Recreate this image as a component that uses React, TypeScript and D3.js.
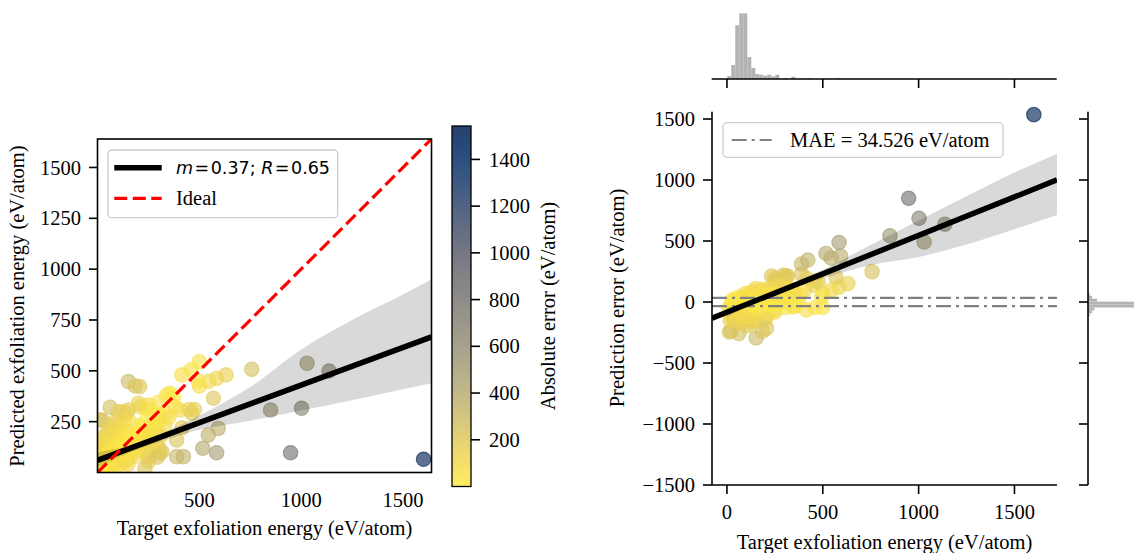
import React from "react";
import * as d3 from "d3";

// Target vs. predicted exfoliation energies (eV/atom)
const target = [
  500, 414, 152, 185, 757, 585, 631, 500, 340, 373,
  569, 1029, 1137, 850, 1002, 948, 1601, 62, 405, 463,
  544, 593, 517, 585, 389, 389, 422, 250, 307, 209,
  242, 144, 103, 13, 291, 242, 169, 340, 356, 201,
  250, 381, 258, 316, 127, 152, 22, 87,
  233, 294, 302, 250, 415, 450, 476, 276, 302, 546, 494, 207, 16,
  460, 300,
  25, 30, 35, 38, 42, 45, 48, 50, 52, 55,
  57, 58, 60, 62, 63, 65, 66, 68, 70, 71,
  72, 74, 75, 76, 78, 80, 81, 82, 84, 85,
  86, 88, 90, 92, 94, 96, 98, 100, 103, 106,
  110, 115, 120, 128, 135,
  45, 50, 55, 60, 64, 67, 69, 72, 73, 77,
  79, 83, 87, 89, 91, 93, 97, 102, 108, 112,
  118, 125, 58, 66, 76,
  10, 15, 20, 28, 35, 40, 45, 50, 55, 60,
  65, 70, 75, 80, 85, 90, 95, 100, 105, 110,
  115, 120, 125, 130, 140, 145, 150, 160, 170, 175,
  185, 190, 200, 210, 220, 230, 240, 255, 265, 280,
  295, 310, 330, 350, 40, 55, 30, 95, 120, 150,
  130, 160, 180, 200, 230, 260, 290, 170, 210, 250, 140, 190,
];
const predicted = [
  545, 480, 447, 425, 508, 463, 480, 425, 381, 373,
  365, 537, 499, 307, 316, 97, 65, 321, 307, 291,
  184, 217, 119, 97, 160, 78, 78, 78, 94, 324,
  316, 291, 299, 258, 209, 160, 94, 291, 390, 340,
  332, 324, 86, 102, 299, 307, 258, 250,
  20, 75, 120, 55, 220, 310, 310, 287, 286, 448, 451, 423, 164,
  505, 345,
  30, 42, 55, 66, 39, 60, 56, 75, 52, 73,
  62, 70, 80, 90, 60, 80, 74, 93, 70, 89,
  77, 86, 95, 104, 75, 95, 89, 107, 84, 103,
  91, 100, 110, 120, 91, 111, 106, 125, 103, 124,
  115, 127, 140, 156, 132,
  50, 62, 58, 72, 70, 85, 77, 90, 80, 98,
  85, 95, 108, 96, 104, 97, 118, 110, 121, 135,
  122, 140, 48, 60, 66,
  60, 120, 95, 150, 180, 130, 85, 200, 160, 110,
  230, 150, 190, 40, 120, 210, 60, 170, 140, 230,
  70, 190, 100, 250, 130, 60, 200, 110, 240, 150,
  80, 180, 130, 230, 110, 170, 260, 140, 200, 150,
  250, 180, 230, 270, 30, 20, 10, 25, 45, 40,
  150, 170, 150, 190, 200, 230, 240, 120, 150, 180, 90, 110,
];

// Linear fit of predicted on target, with its confidence band
const fitSlope = 0.37;
const fitIntercept = 60;
const bandTarget = [0, 150, 300, 500, 750, 1000, 1250, 1500, 1640];
const bandLower = [25, 95, 150, 210, 255, 305, 355, 410, 439];
const bandUpper = [100, 130, 185, 280, 420, 605, 750, 875, 950];

// Linear fit of prediction error on target, with its confidence band
const errSlope = 0.63;
const errIntercept = -84;
const errBandTarget = [0, 150, 300, 500, 750, 1000, 1250, 1500, 1722];
const errBandLower = [-124, -4, 90, 194, 303, 368, 471, 596, 713];
const errBandUpper = [-49, 31, 125, 264, 468, 668, 866, 1061, 1213];

const mae = 34.526;

// Marginal histogram of target energies (bin start, width, counts)
const targetBinStart = 1.6;
const targetBinWidth = 20.9;
const targetCounts = [
  9, 42, 162, 198, 198, 66, 33, 15, 13, 10,
  13, 8, 13, 0, 3, 0, 7, 0, 0, 0,
  3, 0, 0, 0, 0, 0, 0, 3,
];

// Marginal histogram of prediction errors
const errBinEdges = [-117, -93, -69, -45, -21, 3, 27, 51, 75];
const errCounts = [2, 5, 8, 80, 70, 11, 5, 2];

// Tick labels
const leftXTicks = [500, 1000, 1500];
const leftYTicks = [250, 500, 750, 1000, 1250, 1500];
const cbarTicks = [200, 400, 600, 800, 1000, 1200, 1400];
const rightXTicks = [0, 500, 1000, 1500];
const rightYTicks = [-1500, -1000, -500, 0, 500, 1000, 1500];

const SERIF = "'Liberation Serif', 'Times New Roman', Times, serif";
const FS = 20.5;
const minus = (v: number) => (v < 0 ? "\u2212" + Math.abs(v) : String(v));

export default function App() {
  const pts = target.map((t, i) => ({ t, p: predicted[i], e: t - predicted[i] }));

  // left panel scales
  const lx = d3.scaleLinear().domain([0, 1640]).range([97.5, 431.5]);
  const ly = d3.scaleLinear().domain([0, 1640]).range([472.5, 139]);
  // colorbar
  const errMax = 1543;
  const color = (v: number) => d3.interpolateCividis(1 - Math.min(1, Math.max(0, v / errMax)));
  const cby = d3.scaleLinear().domain([0, errMax]).range([486.5, 126]);
  // right panel scales
  const rx = d3.scaleLinear().domain([-78, 1722]).range([712, 1057]);
  const ry = d3.scaleLinear().domain([-1500, 1560]).range([485, 111.7]);
  const hy = d3.scaleLinear().domain([0, 208]).range([79, 10]);
  const hx = d3.scaleLinear().domain([0, 84]).range([1088, 1157]);

  const bandIdx = bandTarget.map((_, i) => i);
  const leftBand = d3
    .area<number>()
    .x((i) => lx(bandTarget[i]))
    .y0((i) => ly(bandLower[i]))
    .y1((i) => ly(bandUpper[i]))
    .curve(d3.curveMonotoneX)(bandIdx);
  const errIdx = errBandTarget.map((_, i) => i);
  const rightBand = d3
    .area<number>()
    .x((i) => rx(errBandTarget[i]))
    .y0((i) => ry(errBandLower[i]))
    .y1((i) => ry(errBandUpper[i]))
    .curve(d3.curveMonotoneX)(errIdx);

  const [rx0, rx1] = rx.domain();
  const gradStops = d3.range(0, 1.0001, 0.05);
  const op = 0.63;

  return (
    <svg
      width={1134}
      height={553}
      style={{ position: "absolute", left: 0, top: 0, background: "#fff" }}
      fontFamily={SERIF}
    >
      <defs>
        <clipPath id="clipL">
          <rect x={97.5} y={139} width={334} height={333.5} />
        </clipPath>
        <clipPath id="clipR">
          <rect x={712} y={111.7} width={345} height={373.3} />
        </clipPath>
        <linearGradient id="cbar" x1="0" y1="1" x2="0" y2="0">
          {gradStops.map((s) => (
            <stop key={s} offset={s} stopColor={color(s * errMax)} />
          ))}
        </linearGradient>
      </defs>

      {/* ---------- left panel: predicted vs target ---------- */}
      <g clipPath="url(#clipL)">
        {pts.map((d, i) => (
          <circle
            key={i}
            cx={lx(d.t)}
            cy={ly(d.p)}
            r={7.2}
            fill={color(Math.abs(d.e))}
            fillOpacity={op}
            stroke={color(Math.abs(d.e))}
            strokeOpacity={op}
            strokeWidth={1.2}
          />
        ))}
        <path d={leftBand ?? ""} fill="#000" fillOpacity={0.15} />
        <line
          x1={lx(0)}
          y1={ly(fitIntercept)}
          x2={lx(1640)}
          y2={ly(fitIntercept + fitSlope * 1640)}
          stroke="#000"
          strokeWidth={5.5}
        />
        <line
          x1={lx(0)}
          y1={ly(0)}
          x2={lx(1640)}
          y2={ly(1640)}
          stroke="#ff0000"
          strokeWidth={3.2}
          strokeDasharray="13 5.5"
        />
      </g>
      <rect x={97.5} y={139} width={334} height={333.5} fill="none" stroke="#000" strokeWidth={1.6} />
      {leftYTicks.map((v) => (
        <g key={v}>
          <line x1={89} x2={97.5} y1={ly(v)} y2={ly(v)} stroke="#000" strokeWidth={1.6} />
          <text x={81} y={ly(v)} dy="0.35em" textAnchor="end" fontSize={FS}>
            {v}
          </text>
        </g>
      ))}
      {leftXTicks.map((v) => (
        <text key={v} x={lx(v)} y={499.5} dy="0.35em" textAnchor="middle" fontSize={FS}>
          {v}
        </text>
      ))}
      <text x={264.5} y={528} dy="0.35em" textAnchor="middle" fontSize={FS}>
        Target exfoliation energy (eV/atom)
      </text>
      <text
        transform="translate(17,306) rotate(-90)"
        dy="0.35em"
        textAnchor="middle"
        fontSize={FS}
      >
        Predicted exfoliation energy (eV/atom)
      </text>

      {/* legend */}
      <rect x={108} y={150} width={229.7} height={67.7} rx={4} fill="#fff" fillOpacity={0.8} stroke="#cccccc" strokeWidth={1.3} />
      <line x1={114.3} x2={161.7} y1={167.7} y2={167.7} stroke="#000" strokeWidth={5.5} />
      <text x={176} y={167.7} dy="0.35em" fontSize={17.5} fontFamily="'DejaVu Sans', sans-serif">
        <tspan fontStyle="italic">m</tspan>
        <tspan dx={1.5}>=</tspan>
        <tspan dx={1.5}>0.37; </tspan>
        <tspan fontStyle="italic">R</tspan>
        <tspan dx={1.5}>=</tspan>
        <tspan dx={1.5}>0.65</tspan>
      </text>
      <line x1={114.3} x2={161.7} y1={198.3} y2={198.3} stroke="#ff0000" strokeWidth={3.2} strokeDasharray="13 5.5" />
      <text x={176} y={198.3} dy="0.35em" fontSize={FS}>
        Ideal
      </text>

      {/* colorbar */}
      <rect x={452} y={126} width={19} height={360.5} fill="url(#cbar)" fillOpacity={0.85} stroke="#000" strokeWidth={1.3} />
      {cbarTicks.map((v) => (
        <g key={v}>
          <line x1={471} x2={480} y1={cby(v)} y2={cby(v)} stroke="#000" strokeWidth={1.6} />
          <text x={489} y={cby(v)} dy="0.35em" fontSize={FS}>
            {v}
          </text>
        </g>
      ))}
      <text transform="translate(548,306) rotate(-90)" dy="0.35em" textAnchor="middle" fontSize={FS}>
        Absolute error (eV/atom)
      </text>

      {/* ---------- right panel: prediction error vs target ---------- */}
      {pts.map((d, i) => (
        <circle
          key={i}
          cx={rx(d.t)}
          cy={ry(d.e)}
          r={7.2}
          fill={color(Math.abs(d.e))}
          fillOpacity={op}
          stroke={color(Math.abs(d.e))}
          strokeOpacity={op}
          strokeWidth={1.2}
        />
      ))}
      <g clipPath="url(#clipR)">
        <path d={rightBand ?? ""} fill="#000" fillOpacity={0.15} />
        {[mae, -mae].map((v) => (
          <line
            key={v}
            x1={rx(rx0)}
            x2={rx(rx1)}
            y1={ry(v)}
            y2={ry(v)}
            stroke="#808080"
            strokeWidth={2.2}
            strokeDasharray="15 5 3 5"
          />
        ))}
        <line
          x1={rx(rx0)}
          y1={ry(errIntercept + errSlope * rx0)}
          x2={rx(rx1)}
          y2={ry(errIntercept + errSlope * rx1)}
          stroke="#000"
          strokeWidth={5.5}
        />
      </g>
      <line x1={712} x2={712} y1={111.7} y2={485} stroke="#000" strokeWidth={1.6} />
      <line x1={712} x2={1057} y1={485} y2={485} stroke="#000" strokeWidth={1.6} />
      {rightYTicks.map((v) => (
        <g key={v}>
          <line x1={703} x2={712} y1={ry(v)} y2={ry(v)} stroke="#000" strokeWidth={1.6} />
          <text x={695} y={ry(v)} dy="0.35em" textAnchor="end" fontSize={FS}>
            {minus(v)}
          </text>
        </g>
      ))}
      {rightXTicks.map((v) => (
        <g key={v}>
          <line x1={rx(v)} x2={rx(v)} y1={485} y2={494} stroke="#000" strokeWidth={1.6} />
          <text x={rx(v)} y={512} dy="0.35em" textAnchor="middle" fontSize={FS}>
            {v}
          </text>
        </g>
      ))}
      <text x={884.5} y={541.5} dy="0.35em" textAnchor="middle" fontSize={FS}>
        Target exfoliation energy (eV/atom)
      </text>
      <text transform="translate(617,298) rotate(-90)" dy="0.35em" textAnchor="middle" fontSize={FS}>
        Prediction error (eV/atom)
      </text>

      {/* MAE legend */}
      <rect x={723} y={122.7} width={280} height={34.6} rx={4} fill="#fff" fillOpacity={0.8} stroke="#cccccc" strokeWidth={1.3} />
      <line x1={731.7} x2={771.7} y1={140} y2={140} stroke="#808080" strokeWidth={2.2} strokeDasharray="15 5 3 5" />
      <text x={790} y={140} dy="0.35em" fontSize={FS}>
        MAE = {mae} eV/atom
      </text>

      {/* ---------- marginal histogram of target ---------- */}
      {targetCounts.map((c, i) =>
        c > 0 ? (
          <rect
            key={i}
            x={rx(targetBinStart + i * targetBinWidth)}
            y={hy(c)}
            width={rx(targetBinStart + (i + 1) * targetBinWidth) - rx(targetBinStart + i * targetBinWidth)}
            height={hy(0) - hy(c)}
            fill="#b3b3b3"
          />
        ) : null
      )}
      <line x1={711.7} x2={1056.7} y1={79} y2={79} stroke="#000" strokeWidth={1.6} />
      {rightXTicks.map((v) => (
        <line key={v} x1={rx(v)} x2={rx(v)} y1={79} y2={88} stroke="#000" strokeWidth={1.6} />
      ))}

      {/* ---------- marginal histogram of error ---------- */}
      {errCounts.map((c, i) => (
        <rect
          key={i}
          x={hx(0)}
          y={ry(errBinEdges[i + 1])}
          width={hx(c) - hx(0)}
          height={ry(errBinEdges[i]) - ry(errBinEdges[i + 1])}
          fill="#b3b3b3"
        />
      ))}
      <line x1={1088} x2={1088} y1={111.7} y2={485} stroke="#000" strokeWidth={1.6} />
      {rightYTicks.map((v) => (
        <line key={v} x1={1079} x2={1088} y1={ry(v)} y2={ry(v)} stroke="#000" strokeWidth={1.6} />
      ))}
    </svg>
  );
}
